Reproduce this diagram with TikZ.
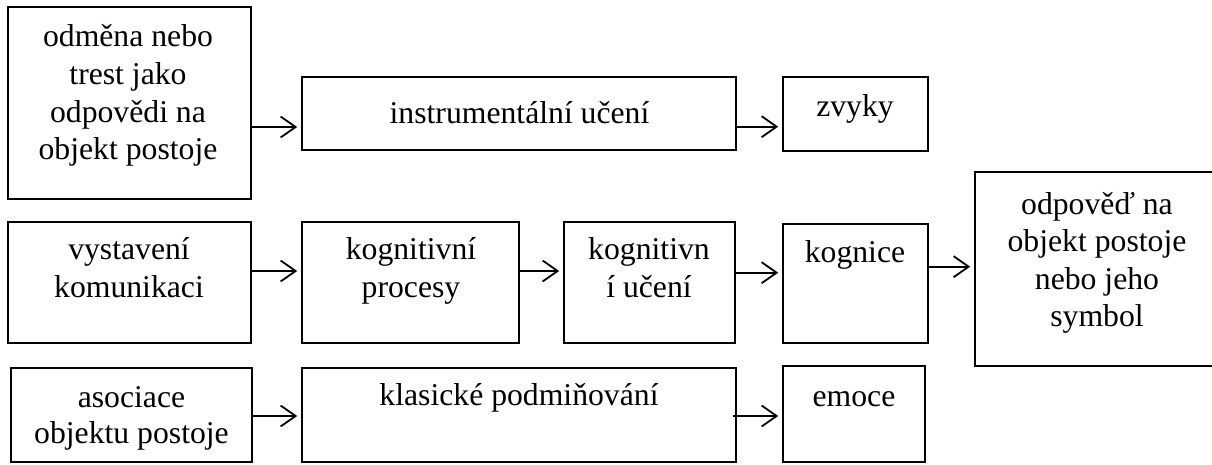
\documentclass[tikz,border=0pt]{standalone}
\usepackage{fontspec}
\setmainfont{Liberation Serif}
\usetikzlibrary{arrows.meta}
\newcommand{\lns}[1]{\begin{tabular}[t]{@{}c@{}}#1\end{tabular}}
\begin{document}
\begin{tikzpicture}[x=0.5pt,y=-0.5pt,
  box/.style={draw=black,line width=0.8pt,inner sep=0pt,fill=none},
  txt/.style={inner sep=0pt,anchor=base,font=\fontsize{15.85}{18.8}\selectfont},
  arr/.style={draw=black,line width=0.9pt,-{Straight Barb[length=7.5pt,width=10.5pt,line width=0.9pt]},shorten >=2pt}]
\useasboundingbox (0,0) rectangle (1212,465);
% boxes
\node[box,minimum width=121.5pt,minimum height=96pt] (b1) at (129.5,103) {};
\node[box,minimum width=217pt,minimum height=36.5pt] (b2) at (519,113.5) {};
\node[box,minimum width=72.5pt,minimum height=37pt] (b3) at (855.5,114) {};
\node[box,minimum width=121.5pt,minimum height=60.5pt] (b4) at (129.5,282.5) {};
\node[box,minimum width=108.5pt,minimum height=60.5pt] (b5) at (410.5,282.5) {};
\node[box,minimum width=85.5pt,minimum height=60.5pt] (b6) at (649.5,282.5) {};
\node[box,minimum width=72.5pt,minimum height=59.5pt] (b7) at (855.5,283.5) {};
\node[box,minimum width=122pt,minimum height=97pt] (b8) at (1097,269) {};
\node[box,minimum width=120.5pt,minimum height=47pt] (b9) at (131.5,415) {};
\node[box,minimum width=217pt,minimum height=47pt] (b10) at (519,415) {};
\node[box,minimum width=71pt,minimum height=48pt] (b11) at (854,414) {};
% texts
\node[txt] (t1) at (128,47) {\lns{odměna nebo\\trest jako\\odpovědi na\\objekt postoje}};
\node[txt] (t2) at (519.5,124) {instrumentální učení};
\node[txt] (t3) at (855,117) {zvyky};
\node[txt] (t4) at (129,260) {\lns{vystavení\\komunikaci}};
\node[txt] (t5) at (411,260) {\lns{kognitivní\\procesy}};
\node[txt] (t6) at (649,260) {\lns{kognitivn\\í učení}};
\node[txt] (t7) at (855,263) {kognice};
\node[txt] (t8) at (1097,214) {\lns{odpověď na\\objekt postoje\\nebo jeho\\symbol}};
\node[txt,font=\fontsize{15.85}{17.6}\selectfont] (t9) at (131.5,408) {\lns{asociace\\objektu postoje}};
\node[txt] (t10) at (519,405) {klasické podmiňování};
\node[txt] (t11) at (854,406) {emoce};
% arrows
\draw[arr] ([yshift=-12pt]b1.east) -- ([yshift=-6.75pt]b2.west);
\draw[arr] ([yshift=-6.6pt]b2.east) -- ([yshift=-6.35pt]b3.west);
\draw[arr] ([yshift=5.75pt]b4.east) -- ([yshift=5.75pt]b5.west);
\draw[arr] ([yshift=5.75pt]b5.east) -- ([yshift=5.75pt]b6.west);
\draw[arr] ([yshift=4.9pt]b6.east) -- ([yshift=5.4pt]b7.west);
\draw[arr] ([yshift=8.4pt]b7.east) -- ([yshift=1.15pt]b8.west);
\draw[arr] ([yshift=-0.5pt]b9.east) -- ([yshift=-0.5pt]b10.west);
\draw[arr,shorten <=-2pt] ([yshift=-0.5pt]b10.east) -- ([yshift=-1pt]b11.west);
\end{tikzpicture}
\end{document}
